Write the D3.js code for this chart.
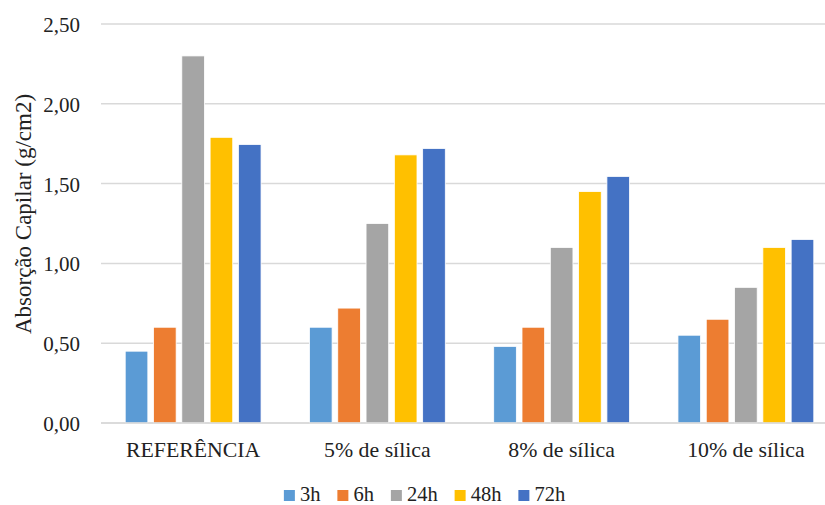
<!DOCTYPE html>
<html>
<head>
<meta charset="utf-8">
<script src="https://cdn.jsdelivr.net/npm/d3@7"></script>
<style>
  html, body { margin: 0; padding: 0; background: #fff; }
  svg { display: block; }
</style>
</head>
<body>
<svg id="chart" width="825" height="505"></svg>
<script>
const categories = ["REFERÊNCIA", "5% de sílica", "8% de sílica", "10% de sílica"];
const seriesNames = ["3h", "6h", "24h", "48h", "72h"];
const seriesColors = ["#5B9BD5", "#ED7D31", "#A5A5A5", "#FFC000", "#4472C4"];
const v3h  = [0.45, 0.60, 0.48, 0.55];
const v6h  = [0.60, 0.72, 0.60, 0.65];
const v24h = [2.30, 1.25, 1.10, 0.85];
const v48h = [1.79, 1.68, 1.45, 1.10];
const v72h = [1.745, 1.72, 1.545, 1.15];
const yTicks = [0, 0.5, 1.0, 1.5, 2.0, 2.5];
const yTitle = "Absorção Capilar (g/cm2)";

const FONT = "Liberation Serif";
const TXT = "#222222";
const seriesValues = [v3h, v6h, v24h, v48h, v72h];
const svg = d3.select("#chart");

const plot = { left: 101, right: 838, top: 24, bottom: 423 };

const x0 = d3.scaleBand().domain(categories).range([plot.left, plot.right]).paddingInner(0.232).paddingOuter(0.116);
const x1 = d3.scaleBand().domain(seriesNames).range([0, x0.bandwidth()]).paddingInner(0.2).paddingOuter(0.1);
const y = d3.scaleLinear().domain([0, 2.5]).range([plot.bottom, plot.top]);
const fmt = d => d3.format(".2f")(d).replace(".", ",");

// gridlines
svg.append("g").selectAll("line").data(yTicks).join("line")
  .attr("x1", plot.left).attr("x2", plot.right)
  .attr("y1", d => y(d)).attr("y2", d => y(d))
  .attr("stroke", "#d9d9d9").attr("stroke-width", 1.5);

// y axis labels
const yAxis = d3.axisLeft(y).tickValues(yTicks).tickFormat(fmt).tickSize(0).tickPadding(0);
const yg = svg.append("g").attr("transform", `translate(80,0)`).call(yAxis)
  .attr("font-family", FONT).attr("font-size", 21);
yg.select(".domain").remove();
yg.selectAll("text").attr("fill", TXT).attr("dy", "0.36em");

// bars
const groups = svg.append("g").selectAll("g").data(categories).join("g")
  .attr("transform", d => `translate(${x0(d)},0)`);
groups.selectAll("rect").data((c, ci) => seriesNames.map((s, si) => ({ s, si, v: seriesValues[si][ci] })))
  .join("rect")
  .attr("x", d => x1(d.s))
  .attr("width", x1.bandwidth())
  .attr("y", d => y(d.v))
  .attr("height", d => y(0) - y(d.v))
  .attr("fill", d => seriesColors[d.si])
  .attr("stroke", "#fff").attr("stroke-width", 0.8);

// baseline
svg.append("line").attr("x1", plot.left).attr("x2", plot.right)
  .attr("y1", y(0)).attr("y2", y(0)).attr("stroke", "#d9d9d9").attr("stroke-width", 1.5);

// x axis labels
const xAxis = d3.axisBottom(x0).tickSize(0).tickPadding(0);
const xg = svg.append("g").attr("transform", `translate(0,457)`).call(xAxis)
  .attr("font-family", FONT).attr("font-size", 21.8);
xg.select(".domain").remove();
xg.selectAll("text").attr("fill", TXT).attr("dy", 0).attr("y", 0);

// y title
svg.append("text")
  .attr("transform", `translate(31,214) rotate(-90)`)
  .attr("text-anchor", "middle")
  .attr("font-family", FONT)
  .attr("font-size", 23)
  .attr("fill", TXT)
  .text(yTitle);

// legend
const lg = svg.append("g").attr("font-family", FONT).attr("font-size", 20.5);
const items = lg.selectAll("g").data(seriesNames).join("g");
items.append("rect").attr("width", 11).attr("height", 11).attr("y", 490).attr("fill", (d, i) => seriesColors[i]);
items.append("text").attr("x", 16).attr("y", 500.5).attr("fill", TXT).text(d => d);
let cx = 0;
const offsets = [];
items.each(function () {
  offsets.push(cx);
  const w = d3.select(this).select("text").node().getComputedTextLength();
  cx += 16 + w + 17;
});
const totalW = cx - 17;
const startX = 424.5 - totalW / 2;
items.attr("transform", (d, i) => `translate(${startX + offsets[i]},0)`);
</script>
</body>
</html>
